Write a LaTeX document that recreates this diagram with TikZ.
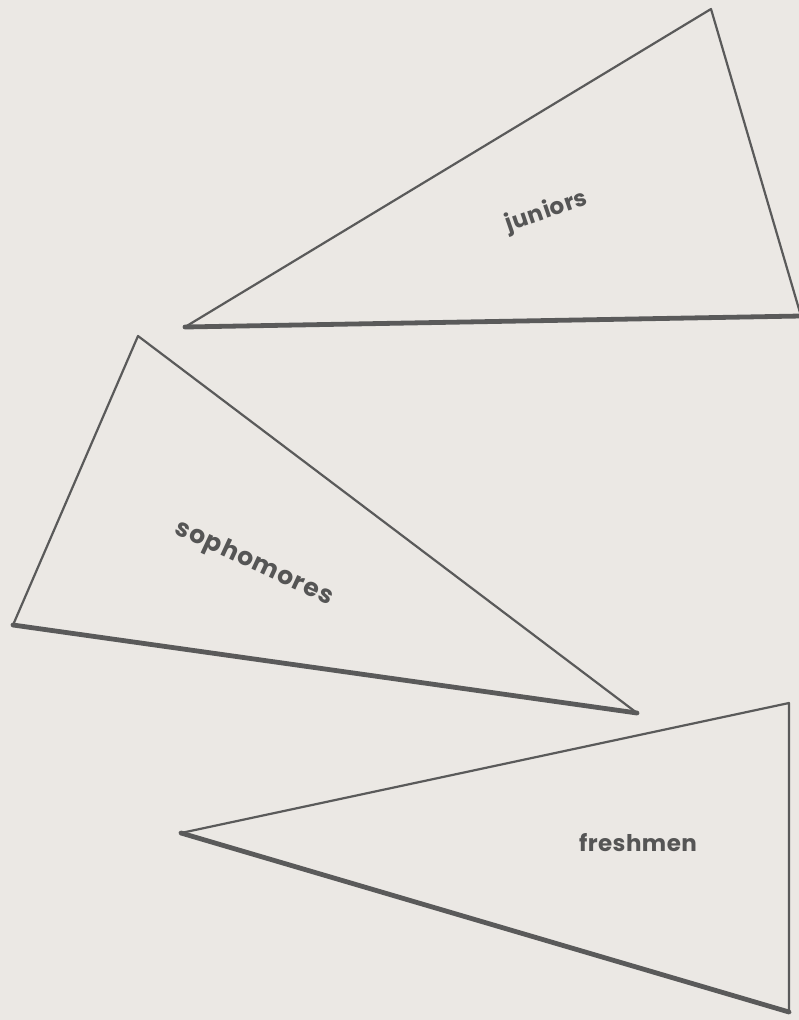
\documentclass[tikz,border=0pt]{standalone}
\usepackage{fontspec}
\setmainfont{Poppins}
\definecolor{bg}{HTML}{EBE8E4}
\definecolor{ink}{HTML}{5A5A5A}
\definecolor{txt}{HTML}{555555}
\begin{document}
\begin{tikzpicture}[x=1pt,y=-1pt,
  thinedge/.style={draw=ink,line width=2.2pt,line join=round,line cap=round},
  thickedge/.style={draw=ink,line width=4.8pt,line cap=round},
  lbl/.style={text=txt,font=\fontsize{23}{25}\selectfont\bfseries\addfontfeature{LetterSpace=2},inner sep=0pt}]
\fill[bg] (0,0) rectangle (799,1020);
\useasboundingbox (0,0) rectangle (799,1020);
% juniors triangle
\coordinate (jt) at (711,9);
\coordinate (jl) at (185,327);
\coordinate (jr) at (801,316);
\draw[thinedge] (jl) -- (jt) -- (jr);
\draw[thickedge] (jl) -- (jr);
\node[lbl,rotate=19] (jun) at (547,212) {juniors};
% sophomores triangle
\coordinate (st) at (138,336);
\coordinate (sl) at (13,625);
\coordinate (sr) at (637,713);
\draw[thinedge] (sl) -- (st) -- (sr);
\draw[thickedge] (sl) -- (sr);
\node[lbl,rotate=-25,font=\fontsize{25}{27}\selectfont\bfseries\addfontfeature{LetterSpace=4}] (sop) at (254,564) {sophomores};
% freshmen triangle
\coordinate (ft) at (789,703);
\coordinate (fl) at (181,833);
\coordinate (fb) at (789,1012);
\draw[thinedge] (fl) -- (ft) -- (fb);
\draw[thickedge] (fl) -- (fb);
\node[lbl] (fre) at (638,843) {freshmen};
\end{tikzpicture}
\end{document}
